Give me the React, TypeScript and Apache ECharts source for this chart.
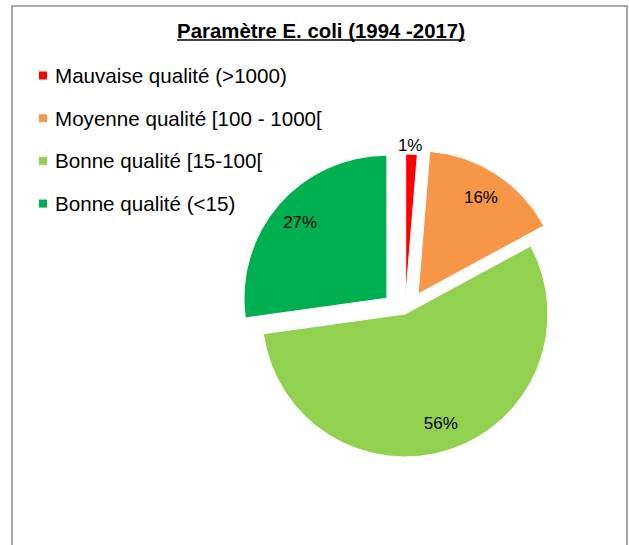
import React, { useEffect, useRef } from "react";
import * as echarts from "echarts";

const titleText = "Paramètre E. coli (1994 -2017)";
const categories = [
  "Mauvaise qualité (>1000)",
  "Moyenne qualité [100 - 1000[",
  "Bonne qualité [15-100[",
  "Bonne qualité (<15)",
];
const values = [1.3, 15.8, 55.7, 27.2];
const colors = ["#FF0000", "#F79646", "#92D050", "#00B050"];
// explosion distance of each slice (0 = not pulled out)
const explosion = [17, 24, 0, 24];
const labelOutside = [true, false, false, false];

const FONT = '"Liberation Sans", Arial, sans-serif';
const CLEAR = "rgba(0,0,0,0)";

export default function App() {
  const ref = useRef<HTMLDivElement>(null);

  useEffect(() => {
    document.body.style.margin = "0";
    if (!ref.current) return;
    const chart = echarts.init(ref.current, null, { renderer: "svg" });

    let titleW = 287;
    try {
      const ctx = document.createElement("canvas").getContext("2d");
      if (ctx) {
        ctx.font = `bold 20.4px ${FONT}`;
        titleW = ctx.measureText(titleText).width;
      }
    } catch (e) {}
    const titleX = 321;

    const fmt = (p: any) => Math.round(p.percent) + "%";
    const center = [405, 314];
    const R = 143;

    // one pie layer per distinct explosion distance
    const offsets = Array.from(new Set(explosion));
    const sliceSeries = offsets.map((off) => ({
      type: "pie",
      center,
      radius: [0, R],
      startAngle: 90,
      clockwise: true,
      selectedMode: "multiple",
      selectedOffset: off,
      avoidLabelOverlap: false,
      silent: true,
      emphasis: { disabled: true },
      itemStyle: { borderColor: "#ffffff", borderWidth: 0 },
      label: {
        fontFamily: FONT,
        fontSize: 17,
        color: "#000000",
        formatter: fmt,
      },
      data: categories.map((name, i) => {
        const mine = explosion[i] === off;
        return {
          name,
          value: values[i],
          selected: mine && off > 0,
          itemStyle: mine
            ? { color: colors[i], borderColor: "#ffffff", borderWidth: 1 }
            : { color: CLEAR, borderWidth: 0 },
          select: {
            itemStyle: mine
              ? { color: colors[i], borderColor: "#ffffff", borderWidth: 1 }
              : { color: CLEAR, borderWidth: 0 },
          },
          label:
            mine && labelOutside[i]
              ? { show: true, position: "outside", distanceToLabelLine: -14 }
              : { show: false },
          labelLine: { show: false, length: 9, length2: 0 },
        };
      }),
    }));

    // label layer (inside labels placed further out than the half radius)
    const labelSeries = offsets.map((off) => ({
      type: "pie",
      center,
      radius: [0, 224],
      startAngle: 90,
      clockwise: true,
      selectedMode: "multiple",
      selectedOffset: off,
      avoidLabelOverlap: false,
      silent: true,
      emphasis: { disabled: true },
      itemStyle: { color: CLEAR, borderWidth: 0 },
      select: { itemStyle: { color: CLEAR, borderWidth: 0 } },
      label: {
        show: true,
        position: "inside",
        fontFamily: FONT,
        fontSize: 17,
        color: "#000000",
        formatter: fmt,
      },
      labelLine: { show: false },
      data: categories.map((name, i) => ({
        name,
        value: values[i],
        selected: explosion[i] === off && off > 0,
        label: { show: explosion[i] === off && !labelOutside[i] },
      })),
      z: 3,
    }));

    chart.setOption({
      animation: false,
      backgroundColor: "#ffffff",
      graphic: [
        {
          type: "rect",
          z: -10,
          shape: { x: 12, y: 6, width: 615, height: 600 },
          style: { fill: "none", stroke: "#8f8f8f", lineWidth: 1.6 },
          silent: true,
        },
        {
          type: "text",
          x: titleX,
          y: 31,
          style: {
            text: titleText,
            font: `bold 20.4px ${FONT}`,
            fill: "#000000",
            textAlign: "center",
            textVerticalAlign: "middle",
          },
        },
        {
          type: "line",
          shape: {
            x1: titleX - titleW / 2,
            y1: 40,
            x2: titleX + titleW / 2,
            y2: 40,
          },
          style: { stroke: "#000000", lineWidth: 1.5 },
        },
      ],
      legend: {
        orient: "vertical",
        left: 34,
        top: 60,
        itemWidth: 8,
        itemHeight: 8,
        itemGap: 21.7,
        icon: "rect",
        selectedMode: false,
        itemStyle: { borderWidth: 0 },
        data: categories.map((name, i) => ({
          name,
          itemStyle: { color: colors[i], borderWidth: 0 },
        })),
        textStyle: {
          fontFamily: FONT,
          fontSize: 20.6,
          lineHeight: 20,
          color: "#000000",
          padding: [0, 0, 0, 3],
        },
      },
      series: [...sliceSeries, ...labelSeries],
    });

    return () => {
      chart.dispose();
    };
  }, []);

  return (
    <div
      ref={ref}
      style={{ position: "fixed", left: 0, top: 0, width: 629, height: 545 }}
    />
  );
}
